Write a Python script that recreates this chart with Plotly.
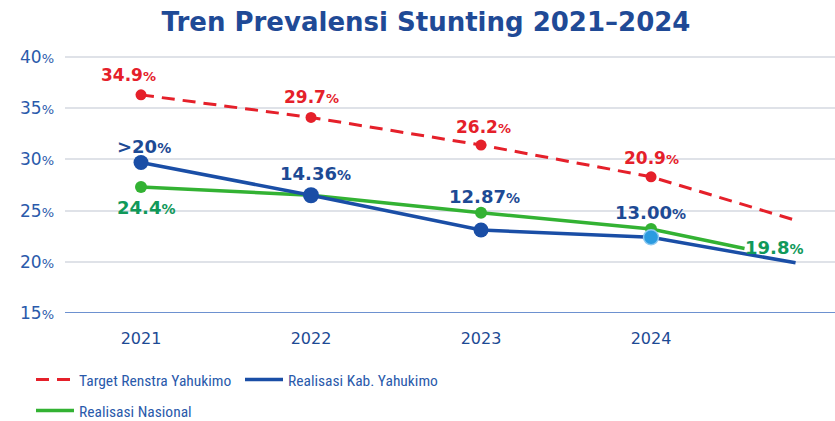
import plotly.graph_objects as go

# ---- data ----
years = [2021, 2022, 2023, 2024]
target_x = [2021, 2022, 2023, 2024, 2024.86]
target_y = [36.3, 34.1, 31.4, 28.3, 24.0]
kab_x = [2021, 2022, 2023, 2024, 2024.85]
kab_y = [29.7, 26.5, 23.1, 22.4, 19.9]
nas_x = [2021, 2022, 2023, 2024, 2024.55]
nas_y = [27.3, 26.5, 24.8, 23.2, 21.3]

target_labels = ["34.9", "29.7", "26.2", "20.9"]
kab_labels = [">20", "14.36", "12.87", "13.00"]
nas_labels = ["24.4", "19.8"]  # 2021 point and end of line

y_ticks = [15, 20, 25, 30, 35, 40]

RED = "#e5202a"
BLUE = "#1a4ea6"
LBLUE = "#2b9be0"
GREEN = "#33b233"
GREEN_TXT = "#11995a"
NAVY = "#1d4a94"
TICK = "#2a5aab"
FONT = "DejaVu Sans"
LFONT = "Liberation Sans Narrow, Roboto Condensed, Roboto"


def pct(v, big, small):
    return f"<span style='font-size:{big}px'>{v}</span><span style='font-size:{small}px'>%</span>"


fig = go.Figure()

# lines (legend entries)
fig.add_trace(go.Scatter(x=nas_x, y=nas_y, mode="lines", name="Realisasi Nasional",
                         line=dict(color=GREEN, width=3.5), legend="legend3", hoverinfo="skip"))
fig.add_trace(go.Scatter(x=kab_x, y=kab_y, mode="lines", name="Realisasi Kab. Yahukimo",
                         line=dict(color=BLUE, width=3.5), legend="legend2", hoverinfo="skip"))
fig.add_trace(go.Scatter(x=target_x, y=target_y, mode="lines", name="Target Renstra Yahukimo",
                         line=dict(color=RED, width=3, dash="13px,8px"), legend="legend",
                         hoverinfo="skip"))

# markers at the yearly points
fig.add_trace(go.Scatter(x=nas_x[:4], y=nas_y[:4], mode="markers", showlegend=False,
                         marker=dict(color=GREEN, size=12, opacity=1), hoverinfo="skip"))
fig.add_trace(go.Scatter(x=kab_x[:4], y=kab_y[:4], mode="markers", showlegend=False,
                         marker=dict(color=[BLUE, BLUE, BLUE, LBLUE], size=[15, 16, 15, 15],
                                     opacity=1, line=dict(color="#8cc8f0", width=[0, 0, 0, 1.5])),
                         hoverinfo="skip"))
fig.add_trace(go.Scatter(x=target_x[:4], y=target_y[:4], mode="markers", showlegend=False,
                         marker=dict(color=RED, size=11, opacity=1), hoverinfo="skip"))

# labels
red_shift = [(-13, 20), (0, 20), (2, 18), (0, 19)]
for i, lab in enumerate(target_labels):
    fig.add_annotation(x=target_x[i], y=target_y[i], text=pct(lab, 17, 13),
                       showarrow=False, xshift=red_shift[i][0], yshift=red_shift[i][1],
                       font=dict(family=FONT, color=RED, size=17, weight="bold"))

blue_shift = [(3, 16), (4, 22), (3, 34), (-1, 25)]
for i, lab in enumerate(kab_labels):
    fig.add_annotation(x=kab_x[i], y=kab_y[i], text=pct(lab, 18, 14),
                       showarrow=False, xshift=blue_shift[i][0], yshift=blue_shift[i][1],
                       font=dict(family=FONT, color=NAVY, size=18, weight="bold"))

fig.add_annotation(x=nas_x[0], y=nas_y[0], text=pct(nas_labels[0], 18, 14),
                   showarrow=False, xshift=5, yshift=-20,
                   font=dict(family=FONT, color=GREEN_TXT, size=18, weight="bold"))
fig.add_annotation(x=nas_x[-1], y=nas_y[-1], text=pct(nas_labels[1], 18, 14),
                   showarrow=False, xanchor="left", xshift=-2, yshift=1,
                   font=dict(family=FONT, color=GREEN_TXT, size=18, weight="bold"))


def legend_box(xpix, ypix):
    return dict(orientation="h", xref="container", yref="container",
                x=xpix / 835, y=1 - ypix / 421, xanchor="left", yanchor="middle",
                itemwidth=38, font=dict(family=LFONT, size=15.5, color=TICK),
                bgcolor="rgba(0,0,0,0)")


fig.update_layout(
    width=835, height=421,
    margin=dict(l=65, r=0, t=45, b=108),
    paper_bgcolor="white", plot_bgcolor="white",
    title=dict(text="Tren Prevalensi Stunting 2021–2024", x=426 / 835, xref="container",
               xanchor="center", y=1 - 22 / 421, yanchor="middle",
               font=dict(family=FONT, size=26, color="#1f4a96", weight="bold")),
    xaxis=dict(range=[2020.553, 2025.082], tickvals=years,
               ticktext=[str(y) for y in years], showgrid=False, zeroline=False,
               showline=False, ticks="", ticklabelstandoff=14,
               tickfont=dict(family=FONT, size=16, color=NAVY)),
    yaxis=dict(range=[15, 41.17], tickvals=y_ticks,
               ticktext=[pct(v, 17, 13) for v in y_ticks],
               showgrid=True, gridcolor="#dfe2e8", gridwidth=1.5, zeroline=False,
               showline=False, ticks="", ticklabelstandoff=10,
               tickfont=dict(family=FONT, size=17, color=TICK)),
    showlegend=True,
    legend=legend_box(31, 380),
    legend2=legend_box(240, 380),
    legend3=legend_box(31, 411),
)

# blue baseline at 15%
fig.add_shape(type="line", xref="paper", yref="y", x0=0, x1=1, y0=y_ticks[0], y1=y_ticks[0],
              line=dict(color="#3c6cc0", width=1.5), layer="above")

fig.write_html("out.html", config={"displayModeBar": False},
               post_script="document.body.style.margin='0';")
